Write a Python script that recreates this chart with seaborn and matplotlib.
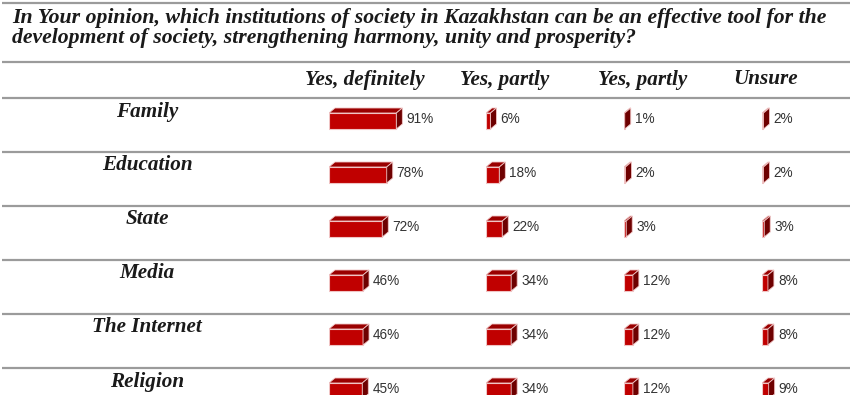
import matplotlib
matplotlib.use("Agg")
import matplotlib.pyplot as plt
from matplotlib.patches import Polygon
import seaborn as sns
import pandas as pd

# ---- data ----
title_lines = [
    "In Your opinion, which institutions of society in Kazakhstan can be an effective tool for the",
    "development of society, strengthening harmony, unity and prosperity?",
]
categories = ["Family", "Education", "State", "Media", "The Internet", "Religion"]
column_labels = ["Yes, definitely", "Yes, partly", "Yes, partly", "Unsure"]
yes_definitely = [91, 78, 72, 46, 46, 45]
yes_partly = [6, 18, 22, 34, 34, 34]
yes_partly_2 = [1, 2, 3, 12, 12, 12]
unsure = [2, 2, 3, 8, 8, 9]
series = [yes_definitely, yes_partly, yes_partly_2, unsure]

# ---- style ----
sns.set_theme(style="white")
plt.rcParams["font.family"] = ["Liberation Sans", "DejaVu Sans"]

W, H = 850, 395
fig = plt.figure(figsize=(W / 100, H / 100), dpi=100)
fig.patch.set_facecolor("white")

ax0 = fig.add_axes([0, 0, 1, 1])
ax0.set_xlim(0, W)
ax0.set_ylim(H, 0)
ax0.axis("off")

serif = "Liberation Serif"
line_color = "#9b9b9b"
text_color = "#1a1a1a"
row_top = 98
row_h = 54
title_fs = 15.7

# horizontal rules
for y in [3, 62] + [row_top + i * row_h for i in range(len(categories))]:
    ax0.plot([2, W], [y, y], color=line_color, lw=1.6, solid_capstyle="butt")

# title
ax0.text(12, 23.5, title_lines[0], family=serif, weight="bold", style="italic",
         fontsize=title_fs, color=text_color, va="baseline", ha="left")
ax0.text(12, 43.5, title_lines[1], family=serif, weight="bold", style="italic",
         fontsize=title_fs, color=text_color, va="baseline", ha="left")

# column headers
header_x = [365, 505, 643, 766]
for x, lab in zip(header_x, column_labels):
    ax0.text(x, 84.5, lab, family=serif, weight="bold", style="italic",
             fontsize=15.2, color=text_color, va="baseline", ha="center")

# row labels
for i, cat in enumerate(categories):
    ax0.text(147, row_top + i * row_h + 18.5, cat, family=serif, weight="bold",
             style="italic", fontsize=15.2, color=text_color, va="baseline", ha="center")

# ---- bars (one axes per column) ----
col_start = [329, 486, 624, 762]
px_per_pct = 0.74
ax_w_px = 100 * px_per_pct
center0 = row_top + 23
ax_top_px = center0 - row_h / 2
ax_h_px = row_h * len(categories)
bar_h_px = 16
depth_x_px, depth_y_px = 6, 5

front = "#c00000"
top_c = "#9a0000"
side_c = "#6e0000"
edge = "#f0c4c4"

for c, vals in enumerate(series):
    ax = fig.add_axes([col_start[c] / W, 1 - (ax_top_px + ax_h_px) / H,
                       ax_w_px / W, ax_h_px / H])
    df = pd.DataFrame({"institution": categories, "value": vals})
    sns.barplot(data=df, x="value", y="institution", orient="h", color=front,
                width=bar_h_px / row_h, saturation=1, edgecolor=edge,
                linewidth=0.8, ax=ax)
    ax.set_xlim(0, 100)
    ax.set_ylim(len(categories) - 0.5, -0.5)
    ax.axis("off")
    ax.patch.set_alpha(0)
    dx = depth_x_px / px_per_pct
    dy = depth_y_px / row_h
    for p in list(ax.patches):
        x0, y0 = p.get_x(), p.get_y()
        w, h = p.get_width(), p.get_height()
        ytop, ybot = y0, y0 + h  # inverted axis: smaller y is visually higher
        x1 = x0 + w
        topf = Polygon([(x0, ytop), (x0 + dx, ytop - dy), (x1 + dx, ytop - dy), (x1, ytop)],
                       closed=True, facecolor=top_c, edgecolor=edge, lw=0.6)
        sidef = Polygon([(x1, ytop), (x1 + dx, ytop - dy), (x1 + dx, ybot - dy), (x1, ybot)],
                        closed=True, facecolor=side_c, edgecolor=edge, lw=0.6)
        ax.add_patch(topf)
        ax.add_patch(sidef)
        ax.text(x1 + dx + 4 / px_per_pct, y0 + h / 2 - 0.03, f"{int(round(w))}%",
                fontsize=9.8, color="#333333", va="center", ha="left", clip_on=False)

fig.savefig("out.png", dpi=100, facecolor="white")
